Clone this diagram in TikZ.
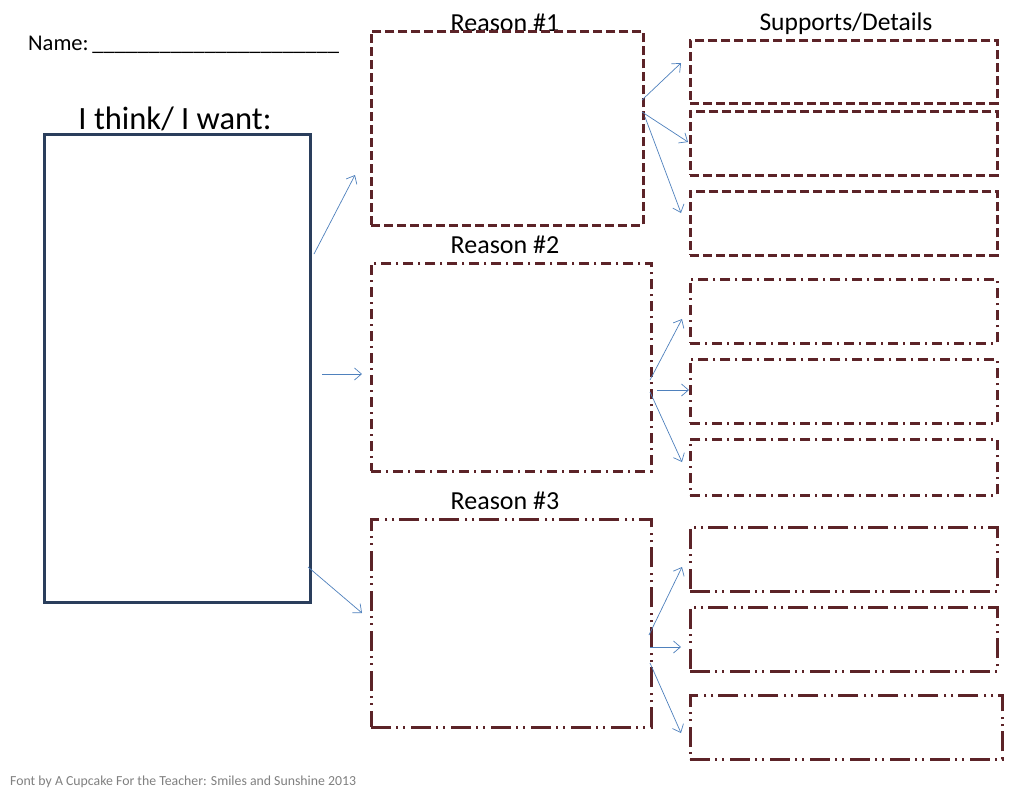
\documentclass[tikz,border=0pt]{standalone}
\usepackage{fontspec}
\setmainfont{Carlito}
\usetikzlibrary{arrows.meta}
\definecolor{maroon}{HTML}{5C2328}
\definecolor{navy}{HTML}{2A3E5C}
\definecolor{arrblue}{HTML}{4F81BD}
\tikzset{
  lbl/.style={inner sep=0pt, anchor=base, text=black},
  boxbase/.style={draw=maroon, line width=2.6pt, rectangle, anchor=north west, inner sep=0pt},
  boxA/.style={boxbase, dash pattern=on 9pt off 4pt},
  boxB/.style={boxbase, dash pattern=on 10pt off 5pt on 2pt off 5pt},
  boxC/.style={boxbase, dash pattern=on 20pt off 5pt on 2pt off 5pt on 2pt off 6pt},
  arr/.style={draw=arrblue, line width=0.7pt, -{Straight Barb[length=7pt,width=12pt,line width=0.7pt]}},
}
\begin{document}
\begin{tikzpicture}[x=1pt,y=-1pt]
\useasboundingbox (0,0) rectangle (1027,796);
\fill[white] (0,0) rectangle (1027,796);

% texts
\node[lbl, anchor=base west, font=\fontsize{22.5}{24}\selectfont] (name) at (28,50) {Name:\,\_\_\_\_\_\_\_\_\_\_\_\_\_\_\_\_\_\_\_\_\_\_};
\node[lbl, font=\fontsize{32.5}{34}\selectfont] (think) at (175,129) {I think/ I want:};
\node[lbl, font=\fontsize{26}{28}\selectfont] (l1) at (505,31) {Reason \#1};
\node[lbl, font=\fontsize{26}{28}\selectfont] (l2) at (505,253) {Reason \#2};
\node[lbl, font=\fontsize{26}{28}\selectfont] (l3) at (505,509) {Reason \#3};
\node[lbl, font=\fontsize{25.5}{28}\selectfont] (ls) at (846,30) {Supports/Details};
\node[lbl, anchor=base west, text=black!50, font=\fontsize{13.8}{15}\selectfont] (foot) at (10,785) {Font by A Cupcake For the Teacher: Smiles and Sunshine 2013};

% main box
\node[draw=navy, line width=2.6pt, anchor=north west, minimum width=266pt, minimum height=468pt, inner sep=0pt] (big) at (43,133) {};

% reason boxes
\node[boxA, minimum width=272pt, minimum height=194pt] (r1) at (370,30) {};
\node[boxB, minimum width=280pt, minimum height=208pt] (r2) at (370,262) {};
\node[boxC, minimum width=280pt, minimum height=208pt] (r3) at (370,518) {};

% support boxes
\node[boxA, minimum width=307pt, minimum height=63pt] (s11) at (689,39) {};
\node[boxA, minimum width=307pt, minimum height=64pt] (s12) at (689,110) {};
\node[boxA, minimum width=307pt, minimum height=64pt] (s13) at (689,190) {};
\node[boxB, minimum width=307pt, minimum height=64pt] (s21) at (689,278) {};
\node[boxB, minimum width=307pt, minimum height=64pt] (s22) at (689,358) {};
\node[boxB, minimum width=307pt, minimum height=56pt] (s23) at (689,438) {};
\node[boxC, minimum width=307pt, minimum height=64pt] (s31) at (689,526) {};
\node[boxC, minimum width=307pt, minimum height=64pt] (s32) at (689,606) {};
\node[boxC, minimum width=312pt, minimum height=64pt] (s33) at (689,694) {};

% arrow coordinates
\coordinate (b1) at (314,254); \coordinate (b1e) at (355,175);
\coordinate (b2) at (322,374); \coordinate (b2e) at (362,374);
\coordinate (b3) at (308,567); \coordinate (b3e) at (362,613);
\coordinate (p11) at (642,100); \coordinate (q11) at (681,63);
\coordinate (p12) at (642,112); \coordinate (q12) at (688,142);
\coordinate (p13) at (645,117); \coordinate (q13) at (681,213);
\coordinate (p21) at (650,380); \coordinate (q21) at (682,319);
\coordinate (p22) at (657,390); \coordinate (q22) at (689,390);
\coordinate (p23) at (650,392); \coordinate (q23) at (682,462);
\coordinate (p31) at (649,635); \coordinate (q31) at (682,567);
\coordinate (p32) at (650,647); \coordinate (q32) at (681,647);
\coordinate (p33) at (650,663); \coordinate (q33) at (681,733);

\draw[arr] (b1) -- (b1e);
\draw[arr] (b2) -- (b2e);
\draw[arr] (b3) -- (b3e);
\draw[arr] (p11) -- (q11);
\draw[arr] (p12) -- (q12);
\draw[arr] (p13) -- (q13);
\draw[arr] (p21) -- (q21);
\draw[arr] (p22) -- (q22);
\draw[arr] (p23) -- (q23);
\draw[arr] (p31) -- (q31);
\draw[arr] (p32) -- (q32);
\draw[arr] (p33) -- (q33);
\end{tikzpicture}
\end{document}
